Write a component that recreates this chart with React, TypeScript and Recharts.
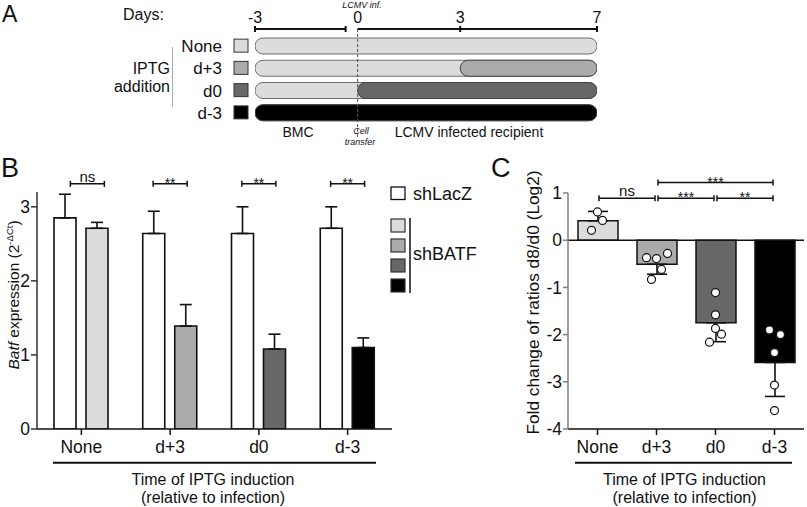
import React from "react";
import {
  BarChart,
  Bar,
  ComposedChart,
  Scatter,
  XAxis,
  YAxis,
  ErrorBar,
  Cell,
  ReferenceLine,
} from "recharts";

const FONT = "'Liberation Sans', Arial, Helvetica, sans-serif";
const INK = "#111";

// ---- panel A: timeline of IPTG addition (days)
const ROWS = ["None", "d+3", "d0", "d-3"];
const DAY_TICKS = [-3, 0, 3, 7];
const FIRST_DAY = -3;
const LAST_DAY = 7;
const BMC_END = -0.35;
const IPTG_DAY: (number | null)[] = [null, 3, 0, -3];

// ---- panel B: Batf expression (2^-dCt)
const GROUPS = ["None", "d+3", "d0", "d-3"];
const LACZ = [2.85, 2.64, 2.64, 2.71];
const LACZ_SEM = [0.32, 0.3, 0.36, 0.29];
const BATF = [2.71, 1.39, 1.08, 1.1];
const BATF_SEM = [0.08, 0.29, 0.2, 0.13];
const B_SIG = ["ns", "**", "**", "**"];
const B_TICKS = [0, 1, 2, 3];

// ---- panel C: fold change of ratios d8/d0 (log2)
const FOLD = [0.41, -0.51, -1.75, -2.59];
const FOLD_SEM = [0.2, 0.21, 0.4, 0.72];
const FOLD_POINTS = [
  [0.6, 0.42, 0.21],
  [-0.37, -0.39, -0.28, -0.62, -0.83],
  [-1.11, -1.58, -1.87, -1.99, -2.16],
  [-1.9, -2.0, -2.38, -3.07, -3.61],
];
const C_TICKS = [-4, -3, -2, -1, 0, 1];
const C_SIG = [
  { from: "None", to: "d+3", label: "ns", level: 0 },
  { from: "d+3", to: "d0", label: "***", level: 0 },
  { from: "d0", to: "d-3", label: "**", level: 0 },
  { from: "d+3", to: "d-3", label: "***", level: 1 },
];

// styling
const GROUP_FILL = ["#dcdcdc", "#ababab", "#676767", "#000000"];
const C_JITTER = [
  [0, 5, -6],
  [-10, 0, 11, 5, -5],
  [0, 0, 0, 6, -6],
  [-5, 6, 0, 0, 0],
];
const B_BRACKET_Y = 3.31;
const B_BRACKET_SHIFT = [6, 0, 0, 0];
const C_BRACKET_Y = [0.89, 1.22];

const A_WIDTH = 620;
const A_MARGIN = { top: 0, right: 23, bottom: 12, left: 155 };
const ROW_AXIS_W = 100;
const PX_PER_DAY = (A_WIDTH - A_MARGIN.left - A_MARGIN.right - ROW_AXIS_W) / (LAST_DAY - FIRST_DAY);
const DAY_LABEL_GAP = 5;

const timeline = ROWS.map((row, i) => ({
  row,
  bmc: [FIRST_DAY, LAST_DAY],
  iptg: IPTG_DAY[i] === null ? null : [IPTG_DAY[i], LAST_DAY],
}));

const bData = GROUPS.map((group, i) => ({
  group,
  lacz: LACZ[i],
  laczErr: [0, LACZ_SEM[i]],
  batf: BATF[i],
  batfErr: [0, BATF_SEM[i]],
}));

const cData = GROUPS.map((group, i) => ({
  group,
  fold: FOLD[i],
  foldErr: FOLD[i] >= 0 ? [0, FOLD_SEM[i]] : [FOLD_SEM[i], 0],
}));

const cPoints = FOLD_POINTS.flatMap((vals, gi) =>
  vals.map((fc, k) => ({ group: GROUPS[gi], fc, gi, k }))
);

const RowTick = (props: any) => {
  const { x, y, payload, index } = props;
  return (
    <g>
      <text x={x - 33} y={y} dy={6} textAnchor="end" fontSize={17} fill={INK} fontFamily={FONT}>
        {payload.value}
      </text>
      <rect x={x - 21} y={y - 7} width={14} height={13} fill={GROUP_FILL[index]} stroke="#333" strokeWidth={1} />
    </g>
  );
};

// day labels plus the broken day scale under them
const DayTick = (props: any) => {
  const { x, y, payload } = props;
  const v = payload.value as number;
  const ly = y + DAY_LABEL_GAP;
  let end: number | null = null;
  if (v === FIRST_DAY) end = x + (BMC_END - FIRST_DAY) * PX_PER_DAY;
  if (v === 0) end = x + (LAST_DAY - 0) * PX_PER_DAY;
  return (
    <g>
      <text x={x} y={y - 1} textAnchor="middle" fontSize={16} fill={INK} fontFamily={FONT}>
        {v}
      </text>
      <g stroke={INK} strokeWidth={2}>
        {end !== null && <line x1={x} y1={ly} x2={end} y2={ly} />}
        {end !== null && <line x1={end} y1={ly - 3} x2={end} y2={ly + 3} />}
        {v !== 0 && <line x1={x} y1={ly - 3} x2={x} y2={ly + 3} />}
      </g>
    </g>
  );
};

const sigText = (label: string, x: number, y: number) => (
  <text
    x={x}
    y={label === "ns" ? y - 2 : y + 4}
    textAnchor="middle"
    fontSize={label === "ns" ? 15 : 14}
    fill={INK}
    stroke="none"
    fontFamily={FONT}
  >
    {label}
  </text>
);

const pairBracket = (label: string, shift: number) => (p: any) => {
  const x1 = p.x1 - 17 + shift;
  const x2 = p.x1 + 17 + shift;
  const y = p.y1;
  return (
    <g>
      <g stroke={INK} strokeWidth={1.5}>
        <line x1={x1} y1={y} x2={x2} y2={y} />
        <line x1={x1} y1={y - 3} x2={x1} y2={y + 3} />
        <line x1={x2} y1={y - 3} x2={x2} y2={y + 3} />
      </g>
      {sigText(label, (x1 + x2) / 2, y)}
    </g>
  );
};

const spanBracket = (label: string) => (p: any) => {
  const x1 = p.x1 + 1.5;
  const x2 = p.x2 - 1.5;
  const y = p.y1;
  return (
    <g>
      <g stroke={INK} strokeWidth={1.5}>
        <line x1={x1} y1={y} x2={x2} y2={y} />
        <line x1={x1} y1={y - 3} x2={x1} y2={y + 3} />
        <line x1={x2} y1={y - 3} x2={x2} y2={y + 3} />
      </g>
      {sigText(label, (x1 + x2) / 2, y)}
    </g>
  );
};

const Dot = (p: any) => {
  const { cx, cy, payload } = p;
  if (cx == null || cy == null) return null;
  const dx = C_JITTER[payload.gi]?.[payload.k] ?? 0;
  return <circle cx={cx + dx} cy={cy} r={4} fill="#fff" stroke={INK} strokeWidth={1.2} />;
};

const tickStyle = { fontSize: 17.5, fill: INK, fontFamily: FONT };

function TimelinePanel() {
  return (
    <BarChart layout="vertical" width={A_WIDTH} height={150} data={timeline} margin={A_MARGIN}>
      <XAxis
        type="number"
        orientation="top"
        domain={[FIRST_DAY, LAST_DAY]}
        ticks={DAY_TICKS}
        allowDataOverflow
        height={29}
        axisLine={false}
        tickLine={false}
        tickSize={0}
        tickMargin={DAY_LABEL_GAP}
        tick={<DayTick />}
      />
      <YAxis
        yAxisId="rows"
        type="category"
        dataKey="row"
        width={ROW_AXIS_W}
        interval={0}
        axisLine={false}
        tickLine={false}
        tickSize={0}
        tickMargin={0}
        padding={{ top: 6, bottom: 14 }}
        tick={<RowTick />}
      />
      <YAxis
        yAxisId="iptg"
        type="category"
        dataKey="row"
        orientation="right"
        hide
        padding={{ top: 6, bottom: 14 }}
      />
      <Bar
        yAxisId="rows"
        dataKey="bmc"
        barSize={16}
        radius={8}
        fill="#dcdcdc"
        stroke="#6e6e6e"
        strokeWidth={1}
        isAnimationActive={false}
      />
      <Bar yAxisId="iptg" dataKey="iptg" barSize={16} radius={8} stroke="#444" strokeWidth={1} isAnimationActive={false}>
        {timeline.map((_, i) => (
          <Cell key={i} fill={GROUP_FILL[i]} />
        ))}
      </Bar>
      <ReferenceLine yAxisId="rows" x={0} stroke="#555" strokeWidth={1} strokeDasharray="3 2" />
    </BarChart>
  );
}

function ExpressionPanel() {
  return (
    <BarChart
      width={400}
      height={357}
      data={bData}
      barSize={22}
      barGap={10}
      margin={{ top: 42, right: 8, bottom: 48, left: 0 }}
    >
      <XAxis
        dataKey="group"
        height={30}
        tickSize={6}
        tickMargin={6}
        axisLine={{ stroke: INK, strokeWidth: 1.5 }}
        tickLine={{ stroke: INK, strokeWidth: 1.5 }}
        tick={tickStyle}
      />
      <YAxis
        width={37}
        domain={[0, 3.2]}
        ticks={B_TICKS}
        allowDataOverflow
        tickSize={6}
        tickMargin={1}
        axisLine={{ stroke: "#333", strokeWidth: 1.5 }}
        tickLine={{ stroke: "#333", strokeWidth: 1.5 }}
        tick={tickStyle}
      />
      <Bar dataKey="lacz" fill="#fff" stroke={INK} strokeWidth={1.6} isAnimationActive={false}>
        <ErrorBar dataKey="laczErr" width={6} stroke={INK} strokeWidth={1.6} direction="y" />
      </Bar>
      <Bar dataKey="batf" stroke={INK} strokeWidth={1.6} isAnimationActive={false}>
        {bData.map((_, i) => (
          <Cell key={i} fill={GROUP_FILL[i]} />
        ))}
        <ErrorBar dataKey="batfErr" width={6} stroke={INK} strokeWidth={1.6} direction="y" />
      </Bar>
      {GROUPS.map((g, i) => (
        <ReferenceLine
          key={g}
          ifOverflow="visible"
          segment={[{ x: g, y: B_BRACKET_Y }, { x: g, y: B_BRACKET_Y }]}
          shape={pairBracket(B_SIG[i], B_BRACKET_SHIFT[i])}
        />
      ))}
    </BarChart>
  );
}

function FoldPanel() {
  return (
    <ComposedChart width={287} height={357} data={cData} margin={{ top: 43, right: 3, bottom: 48, left: 0 }}>
      <XAxis
        dataKey="group"
        allowDuplicatedCategory={false}
        height={30}
        tickSize={6}
        tickMargin={6}
        axisLine={{ stroke: INK, strokeWidth: 1.5 }}
        tickLine={{ stroke: INK, strokeWidth: 1.5 }}
        tick={tickStyle}
      />
      <YAxis
        width={48}
        domain={[-4, 1]}
        ticks={C_TICKS}
        allowDataOverflow
        tickSize={5}
        tickMargin={1}
        axisLine={{ stroke: "#808080", strokeWidth: 1.5 }}
        tickLine={{ stroke: "#808080", strokeWidth: 1.5 }}
        tick={tickStyle}
      />
      <Bar dataKey="fold" barSize={40} stroke={INK} strokeWidth={1.5} isAnimationActive={false}>
        {cData.map((_, i) => (
          <Cell key={i} fill={GROUP_FILL[i]} />
        ))}
        <ErrorBar dataKey="foldErr" width={10} stroke={INK} strokeWidth={1.6} direction="y" />
      </Bar>
      <ReferenceLine y={0} stroke={INK} strokeWidth={1.5} />
      <Scatter data={cPoints} dataKey="fc" shape={Dot} isAnimationActive={false} />
      {C_SIG.map((s) => (
        <ReferenceLine
          key={s.from + s.to + s.level}
          ifOverflow="visible"
          segment={[{ x: s.from, y: C_BRACKET_Y[s.level] }, { x: s.to, y: C_BRACKET_Y[s.level] }]}
          shape={spanBracket(s.label)}
        />
      ))}
    </ComposedChart>
  );
}

function Annotations() {
  const t = { fontFamily: FONT, fill: INK };
  return (
    <svg width={807} height={507} style={{ position: "absolute", left: 0, top: 0, pointerEvents: "none" }}>
      {/* panel A */}
      <text x={2} y={21.7} fontSize={23} {...t}>A</text>
      <text x={123} y={20} fontSize={16} {...t}>Days:</text>
      <text x={362} y={8} fontSize={9} fontStyle="italic" textAnchor="middle" {...t}>LCMV inf.</text>
      <text x={170} y={73.5} fontSize={16} textAnchor="end" {...t}>IPTG</text>
      <text x={170} y={91.5} fontSize={16} textAnchor="end" {...t}>addition</text>
      <line x1={172.5} y1={47} x2={172.5} y2={107} stroke="#aaa" strokeWidth={1} />
      <text x={298} y={137} fontSize={14} textAnchor="middle" {...t}>BMC</text>
      <text x={361} y={134} fontSize={9} fontStyle="italic" textAnchor="middle" {...t}>Cell</text>
      <text x={360} y={145} fontSize={9} fontStyle="italic" textAnchor="middle" {...t}>transfer</text>
      <text x={469} y={137} fontSize={14} textAnchor="middle" {...t}>LCMV infected recipient</text>

      {/* panel B */}
      <text x={1} y={177} fontSize={27} {...t}>B</text>
      <text transform="translate(18.5,295) rotate(-90)" fontSize={15.5} textAnchor="middle" {...t}>
        <tspan fontStyle="italic">Batf</tspan> expression (2
        <tspan dy={-6} fontSize={9.5}>-ΔCt</tspan>
        <tspan dy={6}>)</tspan>
      </text>
      <line x1={53} y1={462.7} x2={376} y2={462.7} stroke={INK} strokeWidth={2} />
      <text x={213} y={485} fontSize={16} textAnchor="middle" {...t}>Time of IPTG induction</text>
      <text x={213} y={503} fontSize={16} textAnchor="middle" {...t}>(relative to infection)</text>
      <rect x={391} y={187} width={14} height={12.5} fill="#fff" stroke={INK} strokeWidth={1.3} />
      <text x={413} y={199.5} fontSize={18} {...t}>shLacZ</text>
      {GROUP_FILL.map((c, i) => (
        <rect key={c} x={391} y={219 + i * 20} width={14} height={13} fill={c} stroke="#333" strokeWidth={1.2} />
      ))}
      <line x1={410} y1={218} x2={410} y2={293} stroke={INK} strokeWidth={1.5} />
      <text x={413} y={259.5} fontSize={18} {...t}>shBATF</text>

      {/* panel C */}
      <text x={491} y={177} fontSize={27} {...t}>C</text>
      <text transform="translate(539,302.5) rotate(-90)" fontSize={17.3} textAnchor="middle" {...t}>
        Fold change of ratios d8/d0 (Log2)
      </text>
      <line x1={575} y1={462.7} x2={792} y2={462.7} stroke={INK} strokeWidth={2} />
      <text x={684.5} y={485} fontSize={16} textAnchor="middle" {...t}>Time of IPTG induction</text>
      <text x={684.5} y={503} fontSize={16} textAnchor="middle" {...t}>(relative to infection)</text>
    </svg>
  );
}

export default function App() {
  return (
    <div style={{ position: "absolute", left: 0, top: 0, width: 807, height: 507, background: "#fff", fontFamily: FONT }}>
      <div style={{ position: "absolute", left: 0, top: 0 }}>
        <TimelinePanel />
      </div>
      <div style={{ position: "absolute", left: 0, top: 150 }}>
        <ExpressionPanel />
      </div>
      <div style={{ position: "absolute", left: 520, top: 150 }}>
        <FoldPanel />
      </div>
      <Annotations />
    </div>
  );
}
